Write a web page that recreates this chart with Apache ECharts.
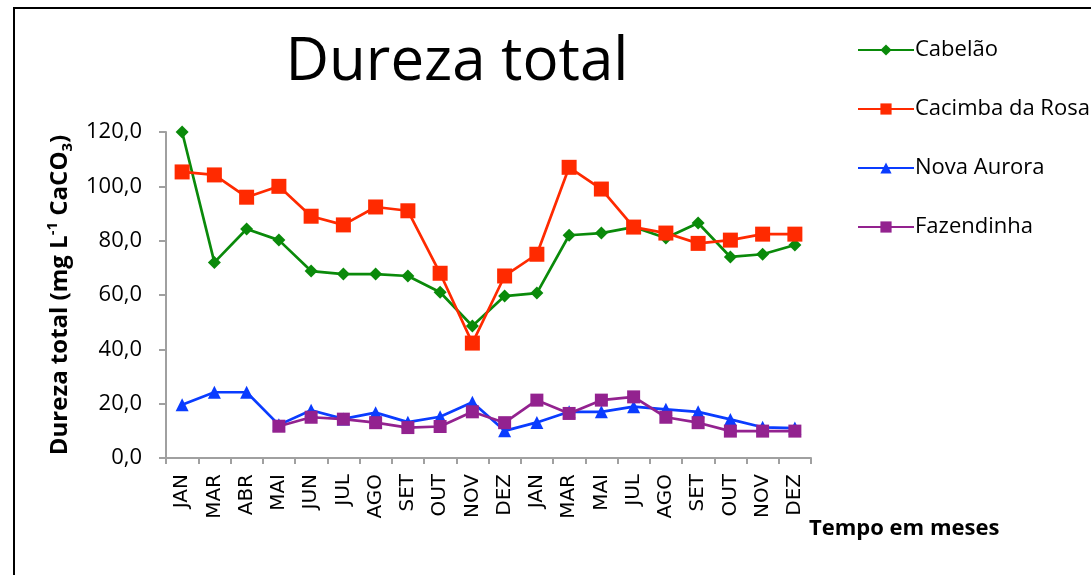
<!DOCTYPE html>
<html>
<head>
<meta charset="utf-8">
<script src="https://cdn.jsdelivr.net/npm/echarts@6/dist/echarts.min.js"></script>
<style>
html, body { margin: 0; padding: 0; background: #fff; }
#chart { width: 1091px; height: 575px; }
</style>
</head>
<body>
<div id="chart"></div>
<script>
"use strict";

/*-----data-----*/
var months = ['JAN', 'MAR', 'ABR', 'MAI', 'JUN', 'JUL', 'AGO', 'SET', 'OUT', 'NOV',
	'DEZ', 'JAN', 'MAR', 'MAI', 'JUL', 'AGO', 'SET', 'OUT', 'NOV', 'DEZ'];
var cabelao = [120, 72, 84.3, 80.2, 68.8, 67.7, 67.7, 67, 61, 48.6,
	59.6, 60.7, 82, 82.8, 85, 81, 86.5, 74, 75, 78.4];
var cacimba = [105.3, 104.2, 96, 100, 89, 85.8, 92.4, 91, 68, 42.3,
	67, 75, 107, 99, 85, 82.8, 79, 80.2, 82.4, 82.4];
var novaAurora = [19.6, 24.2, 24.2, 12.2, 17.6, 14.4, 16.7, 13.2, 15.2, 20.5,
	10, 13.1, 17, 17, 18.9, 17.9, 17, 14.2, 11.3, 11];
var fazendinha = [null, null, null, 11.7, 15, 14.3, 13, 11.2, 11.6, 17,
	13, 21.3, 16.4, 21.3, 22.5, 15, 13, 9.9, 9.9, 9.9];
var yTicks = [0, 20, 40, 60, 80, 100, 120];

var chart = document.getElementById('chart');
var lineChart = echarts.init(chart);

function makeSeries(name, data, color, symbol, size) {
	return {
		name: name,
		type: 'line',
		data: data,
		symbol: symbol,
		symbolSize: size,
		showAllSymbol: true,
		connectNulls: false,
		lineStyle: { width: 2.7, color: color },
		itemStyle: { color: color },
		emphasis: { disabled: true }
	};
}

var option = {
	animation: false,
	textStyle: { fontFamily: 'Open Sans' },
	title: [{
		text: 'Dureza total',
		left: 452,
		top: 28,
		textAlign: 'center',
		textStyle: { fontSize: 60, fontWeight: 'normal', color: '#000', fontFamily: 'Open Sans' }
	}, {
		text: 'Tempo em meses',
		left: 804,
		top: 513,
		textStyle: { fontSize: 22, fontWeight: 'bold', color: '#000', fontFamily: 'Open Sans' }
	}],
	legend: {
		orient: 'vertical',
		left: 852,
		top: 34,
		itemWidth: 56,
		itemHeight: 14,
		itemGap: 37,
		textStyle: { fontSize: 22, color: '#000', fontFamily: 'Open Sans', padding: [0, 0, 0, -4] },
		data: ['Cabelão', 'Cacimba da Rosa', 'Nova Aurora', 'Fazendinha']
	},
	grid: {
		left: 166,
		right: 280,
		top: 132,
		bottom: 117,
		containLabel: false
	},
	xAxis: {
		type: 'category',
		data: months,
		boundaryGap: true,
		axisLine: { lineStyle: { color: '#a0a0a0', width: 2 } },
		axisTick: { show: true, interval: 0, length: 6, lineStyle: { color: '#a0a0a0', width: 2 } },
		axisLabel: {
			interval: 0,
			rotate: 90,
			margin: 16,
			fontSize: 20,
			color: '#000',
			fontFamily: 'DejaVu Sans'
		}
	},
	yAxis: {
		type: 'value',
		min: yTicks[0],
		max: yTicks[yTicks.length - 1],
		interval: 20,
		name: 'Dureza total (mg L{sup|-1} CaCO{sub|3})',
		nameLocation: 'middle',
		nameRotate: 90,
		nameGap: 89,
		nameTextStyle: {
			fontSize: 24,
			fontWeight: 'bold',
			color: '#000',
			fontFamily: 'Open Sans',
			lineHeight: 30,
			rich: {
				sup: { fontSize: 15, fontWeight: 'bold', color: '#000', verticalAlign: 'top', lineHeight: 16, fontFamily: 'Open Sans' },
				sub: { fontSize: 15, fontWeight: 'bold', color: '#000', verticalAlign: 'bottom', lineHeight: 12, fontFamily: 'Open Sans' }
			}
		},
		splitLine: { show: false },
		axisLine: { show: true, lineStyle: { color: '#a0a0a0', width: 2 } },
		axisTick: { show: true, length: 7, lineStyle: { color: '#a0a0a0', width: 2 } },
		axisLabel: {
			fontSize: 22,
			color: '#000',
			margin: 24,
			fontFamily: 'Open Sans',
			formatter: function (v) { return v.toFixed(1).replace('.', ','); }
		}
	},
	graphic: [{
		type: 'rect',
		shape: { x: 14, y: 8, width: 1200, height: 700 },
		style: { fill: 'none', stroke: '#000', lineWidth: 2 },
		silent: true
	}],
	series: [
		makeSeries('Cabelão', cabelao, '#0a8a0a', 'diamond', 13),
		makeSeries('Cacimba da Rosa', cacimba, '#ff2a00', 'rect', 15),
		makeSeries('Nova Aurora', novaAurora, '#0a3cff', 'triangle', 13),
		makeSeries('Fazendinha', fazendinha, '#93228f', 'rect', 13)
	]
};
lineChart.setOption(option);
window.addEventListener('resize', function () {
	lineChart.resize();
});
</script>
</body>
</html>
